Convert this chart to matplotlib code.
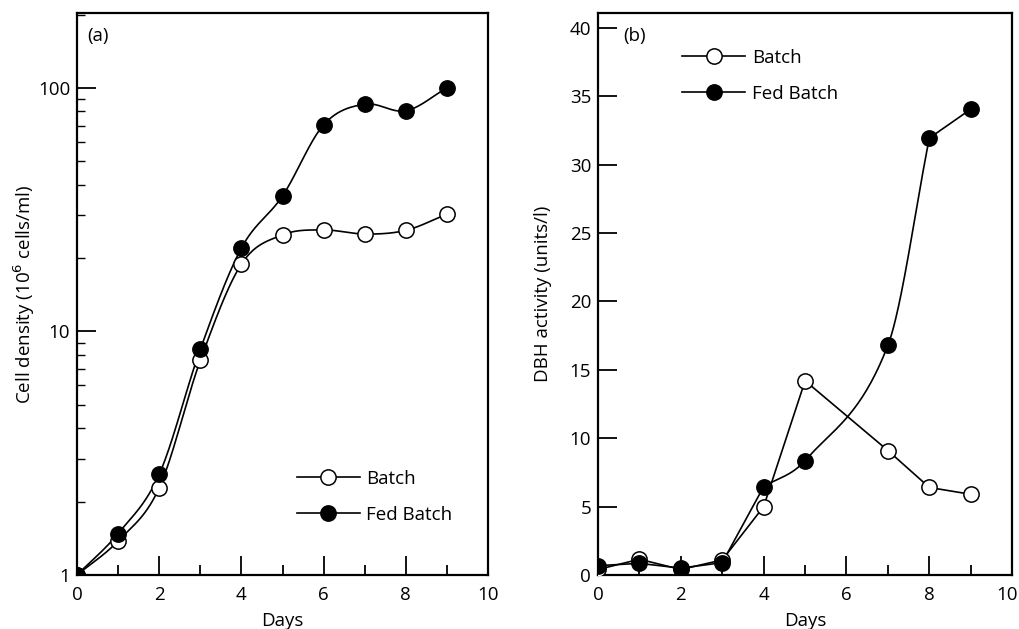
import numpy as np
import matplotlib
matplotlib.use("Agg")
import matplotlib.pyplot as plt
import matplotlib.transforms as mtransforms
from matplotlib.ticker import FixedLocator, NullFormatter, FixedFormatter

plt.rcParams['font.family'] = ['Open Sans', 'DejaVu Sans']

# ---- data ----
days_a = [0, 1, 2, 3, 4, 5, 6, 7, 8, 9]
batch_a = [1.0, 1.38, 2.28, 7.6, 18.9, 24.9, 26.1, 25.1, 26.0, 30.3]
fed_a = [1.0, 1.48, 2.59, 8.45, 22.0, 36.0, 70.5, 85.7, 80.5, 100.0]

days_b = [0, 1, 2, 3, 4, 5, 7, 8, 9]
batch_b = [0.4, 1.15, 0.4, 1.1, 5.0, 14.2, 9.1, 6.4, 5.9]
fed_b = [0.68, 0.85, 0.5, 0.9, 6.46, 8.37, 16.8, 31.95, 34.06]

labels = ['Batch', 'Fed Batch']


def catmull(x, y, n=60):
    """Smooth curve through the given points (cubic Hermite, Catmull-Rom tangents)."""
    x = np.asarray(x, float); y = np.asarray(y, float)
    m = np.empty_like(y)
    m[0] = (y[1] - y[0]) / (x[1] - x[0])
    m[-1] = (y[-1] - y[-2]) / (x[-1] - x[-2])
    for k in range(1, len(x) - 1):
        m[k] = (y[k + 1] - y[k - 1]) / (x[k + 1] - x[k - 1])
    xs_all, ys_all = [], []
    for i in range(len(x) - 1):
        h = x[i + 1] - x[i]
        t = np.linspace(0, 1, n)
        h00 = 2 * t**3 - 3 * t**2 + 1; h10 = t**3 - 2 * t**2 + t
        h01 = -2 * t**3 + 3 * t**2; h11 = t**3 - t**2
        xs_all.append(x[i] + t * h)
        ys_all.append(h00 * y[i] + h10 * h * m[i] + h01 * y[i + 1] + h11 * h * m[i + 1])
    return np.concatenate(xs_all), np.concatenate(ys_all)


fig = plt.figure(figsize=(10.2, 6.29), dpi=100)
ax1 = fig.add_axes([0.0755, 0.0859, 0.403, 0.8935])
ax2 = fig.add_axes([0.5863, 0.0859, 0.406, 0.8935])

lw = 1.2
ms = 11
mew = 1.1
fs = 13.5

# ---- panel (a) ----
for vals, filled in [(batch_a, False), (fed_a, True)]:
    cx, cy = catmull(days_a, np.log10(vals))
    ax1.plot(cx, 10 ** cy, color='black', lw=lw, zorder=2)
    ax1.plot(days_a, vals, linestyle='none', marker='o', ms=ms, mew=mew,
             mec='black', mfc='black' if filled else 'white', zorder=3)
ax1.set_yscale('log')
ax1.set_xlim(0, 10)
ax1.set_ylim(1, 203)
ax1.yaxis.set_major_locator(FixedLocator([1, 10, 100]))
ax1.yaxis.set_major_formatter(FixedFormatter(['1', '10', '100']))
minors = [k * 10 ** e for e in range(0, 3) for k in range(2, 10) if k * 10 ** e < 203]
ax1.yaxis.set_minor_locator(FixedLocator(minors))
ax1.yaxis.set_minor_formatter(NullFormatter())
ax1.set_ylabel('Cell density (10$^6$ cells/ml)', fontsize=fs, labelpad=0.5)
ax1.text(0.025, 0.975, '(a)', transform=ax1.transAxes, fontsize=fs, va='top', ha='left')

h1 = ax1.plot([], [], color='black', lw=lw, marker='o', ms=ms, mew=mew, mec='black', mfc='white')[0]
h2 = ax1.plot([], [], color='black', lw=lw, marker='o', ms=ms, mew=mew, mec='black', mfc='black')[0]
ax1.legend([h1, h2], labels, loc='upper left', bbox_to_anchor=(0.535, 0.187), frameon=False,
           fontsize=fs, handlelength=3.36, handletextpad=0.35, labelspacing=0.95,
           borderpad=0, borderaxespad=0, numpoints=1)

# ---- panel (b) ----
ax2.plot(days_b, batch_b, color='black', lw=lw, zorder=2)
ax2.plot(days_b, batch_b, linestyle='none', marker='o', ms=ms, mew=mew, mec='black', mfc='white', zorder=3)
# fed batch: straight early, smooth rise from day 4 to 8, straight to 9
ax2.plot(days_b[:5], fed_b[:5], color='black', lw=lw, zorder=2)
cx, cy = catmull(days_b[4:8], fed_b[4:8])
ax2.plot(cx, cy, color='black', lw=lw, zorder=2)
ax2.plot(days_b[7:], fed_b[7:], color='black', lw=lw, zorder=2)
ax2.plot(days_b, fed_b, linestyle='none', marker='o', ms=ms, mew=mew, mec='black', mfc='black', zorder=3)
ax2.set_xlim(0, 10)
ax2.set_ylim(0, 41.1)
ax2.set_yticks([0, 5, 10, 15, 20, 25, 30, 35, 40])
ax2.set_ylabel('DBH activity (units/l)', fontsize=fs, labelpad=13)
ax2.text(0.06, 0.975, '(b)', transform=ax2.transAxes, fontsize=fs, va='top', ha='left')
g1 = ax2.plot([], [], color='black', lw=lw, marker='o', ms=ms, mew=mew, mec='black', mfc='white')[0]
g2 = ax2.plot([], [], color='black', lw=lw, marker='o', ms=ms, mew=mew, mec='black', mfc='black')[0]
ax2.legend([g1, g2], labels, loc='upper left', bbox_to_anchor=(0.203, 0.936), frameon=False,
           fontsize=fs, handlelength=3.36, handletextpad=0.35, labelspacing=0.95,
           borderpad=0, borderaxespad=0, numpoints=1)

for ax in (ax1, ax2):
    ax.set_xticks([0, 2, 4, 6, 8, 10])
    ax.set_xticks([1, 3, 5, 7, 9], minor=True)
    ax.set_xlabel('Days', fontsize=fs, labelpad=6)
    ax.tick_params(axis='both', which='major', direction='in', length=14, width=1.3,
                   labelsize=fs)
    ax.tick_params(axis='x', which='major', pad=8)
    ax.tick_params(axis='y', which='major', pad=5)
    ax.tick_params(axis='x', which='minor', direction='in', length=7, width=1.3)
    ax.tick_params(axis='y', which='minor', direction='in', length=6, width=1.0)
    for sp in ax.spines.values():
        sp.set_linewidth(1.6)

# keep the last x label of panel (b) inside the figure
fig.canvas.draw()
lab = ax2.get_xticklabels()[-1]
lab.set_horizontalalignment('right')
lab.set_transform(lab.get_transform() + mtransforms.ScaledTranslation(6 / 100, 0, fig.dpi_scale_trans))

fig.savefig('out.png', dpi=100)
